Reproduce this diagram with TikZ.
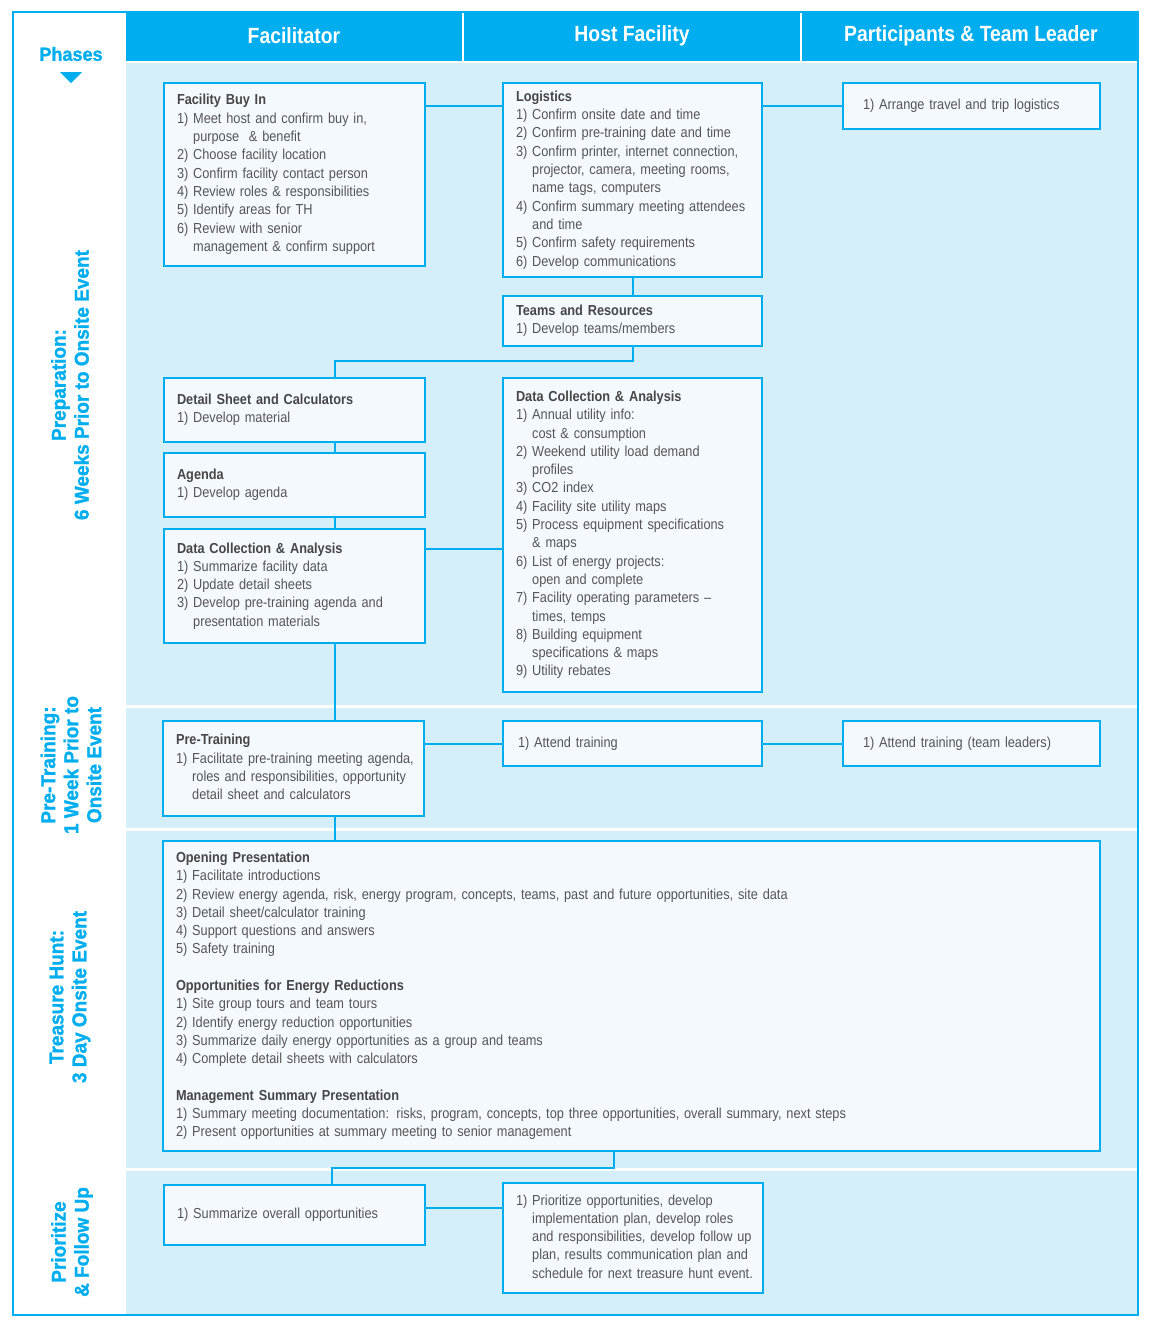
\documentclass[tikz,border=0pt]{standalone}
\usepackage{fontspec}
\setmainfont{Liberation Sans}[FakeStretch=0.88]
\newfontfamily\phasefont{Liberation Sans}[FakeStretch=0.95,BoldFeatures={FakeBold=1.2}]
\definecolor{thcyan}{HTML}{00AEEF}
\definecolor{thpale}{HTML}{D4EEFA}
\definecolor{thcard}{HTML}{F4F9FD}
\definecolor{thtext}{HTML}{555557}
\definecolor{thtitle}{HTML}{464648}
\newcommand{\ind}{\hphantom{0)\ }}
\newcommand{\ttl}[1]{{\color{thtitle}\bfseries #1}}
\newcommand{\cell}[1]{\noindent\begin{tabular}{@{}l@{}}#1\end{tabular}}

\begin{document}
\begin{tikzpicture}[x=1pt,y=-1pt,
  task box/.style={draw=thcyan,line width=2pt,fill=thcard,text=thtext,anchor=north west,
    inner xsep=13pt,inner ysep=0pt,font=\fontsize{14.5}{18.3}\selectfont},
  box size/.style 2 args={minimum width=#1pt,minimum height=#2pt,
    /utils/exec={\pgfmathsetlengthmacro\boxtw{#1pt-26pt}},text width=\boxtw},
  link/.style={draw=thcyan,line width=2pt},
  head label/.style={text=white,font=\bfseries\fontsize{22}{26}\selectfont},
  phase label/.style={rotate=90,align=center,text=thcyan,
    font=\phasefont\bfseries\fontsize{20}{23}\selectfont}]

  \useasboundingbox (0,0) rectangle (1151,1325);
  \fill[white] (0,0) rectangle (1151,1325);
  \fill[thpale] (126,63) rectangle (1138,1315);
  \fill[thcyan] (126,11) rectangle (1139,61);
  \draw[white,line width=2pt] (463,11) -- (463,61) (801,11) -- (801,61);
  \draw[white,line width=3pt] (126,706) -- (1138,706) (126,829) -- (1138,829)
    (126,1169) -- (1138,1169);
  \draw[thcyan,line width=2pt] (13,12) rectangle (1138,1315);

  % column heads
  \node[head label] (fac) at (294,36) {Facilitator};
  \node[head label] (host) at (632,36) {Host Facility};
  \node[head label] (part) at (971,36) {Participants \& Team Leader};
  \node[text=thcyan,font=\phasefont\bfseries\fontsize{19}{24}\selectfont] (phases) at (71,54) {Phases};
  \fill[thcyan] (60,72) -- (82,72) -- (71,83) -- cycle;

  % phases
  \node[phase label] (prep) at (70,385) {Preparation:\\6 Weeks Prior to Onsite Event};
  \node[phase label] (pretr) at (71,765) {Pre-Training:\\1 Week Prior to\\Onsite Event};
  \node[phase label] (onsite) at (70,997) {Treasure Hunt:\\3 Day Onsite Event};
  \node[phase label] (follow) at (72,1242) {Prioritize\\\& Follow Up};

  % preparation
  \node[task box,box size={261}{183}] (buyin) at (163,82) {\cell{\ttl{Facility Buy In}\\
    1) Meet host and confirm buy in,\\
    \ind purpose \ \& benefit\\
    2) Choose facility location\\
    3) Confirm facility contact person\\
    4) Review roles \& responsibilities\\
    5) Identify areas for TH\\
    6) Review with senior\\
    \ind management \& confirm support}};
  \node[task box,box size={259}{194}] (logistics) at (502,82) {\cell{\ttl{Logistics}\\
    1) Confirm onsite date and time\\
    2) Confirm pre-training date and time\\
    3) Confirm printer, internet connection,\\
    \ind projector, camera, meeting rooms,\\
    \ind name tags, computers\\
    4) Confirm summary meeting attendees\\
    \ind and time\\
    5) Confirm safety requirements\\
    6) Develop communications}};
  \node[task box,box size={257}{46},inner xsep=20pt,text width=217pt] (arrange) at (842,82)
    {\cell{1) Arrange travel and trip logistics}};
  \node[task box,box size={259}{50}] (teams) at (502,295) {\cell{\ttl{Teams and Resources}\\
    1) Develop teams/members}};
  \node[task box,box size={261}{64}] (detail) at (163,377) {\cell{\ttl{Detail Sheet and Calculators}\\
    1) Develop material}};
  \node[task box,box size={261}{64}] (agenda) at (163,452) {\cell{\ttl{Agenda}\\
    1) Develop agenda}};
  \node[task box,box size={261}{114}] (dcl) at (163,528) {\cell{\ttl{Data Collection \& Analysis}\\
    1) Summarize facility data\\
    2) Update detail sheets\\
    3) Develop pre-training agenda and\\
    \ind presentation materials}};
  \node[task box,box size={259}{314}] (dcr) at (502,377) {\cell{\ttl{Data Collection \& Analysis}\\
    1) Annual utility info:\\
    \ind cost \& consumption\\
    2) Weekend utility load demand\\
    \ind profiles\\
    3) CO2 index\\
    4) Facility site utility maps\\
    5) Process equipment specifications\\
    \ind \& maps\\
    6) List of energy projects:\\
    \ind open and complete\\
    7) Facility operating parameters --\\
    \ind times, temps\\
    8) Building equipment\\
    \ind specifications \& maps\\
    9) Utility rebates}};

  % pre-training
  \node[task box,box size={261}{95}] (pretrain) at (162,720) {\cell{\ttl{Pre-Training}\\
    1) Facilitate pre-training meeting agenda,\\
    \ind roles and responsibilities, opportunity\\
    \ind detail sheet and calculators}};
  \node[task box,box size={259}{45},inner xsep=15pt,text width=229pt] (attend) at (502,720)
    {\cell{1) Attend training}};
  \node[task box,box size={257}{45},inner xsep=20pt,text width=217pt] (leaders) at (842,720)
    {\cell{1) Attend training (team leaders)}};

  % treasure hunt
  \node[task box,box size={937}{310}] (hunt) at (162,840) {\cell{\ttl{Opening Presentation}\\
    1) Facilitate introductions\\
    2) Review energy agenda, risk, energy program, concepts, teams, past and future opportunities, site data\\
    3) Detail sheet/calculator training\\
    4) Support questions and answers\\
    5) Safety training\\[18.3pt]
    \ttl{Opportunities for Energy Reductions}\\
    1) Site group tours and team tours\\
    2) Identify energy reduction opportunities\\
    3) Summarize daily energy opportunities as a group and teams\\
    4) Complete detail sheets with calculators\\[18.3pt]
    \ttl{Management Summary Presentation}\\
    1) Summary meeting documentation: risks, program, concepts, top three opportunities, overall summary, next steps\\
    2) Present opportunities at summary meeting to senior management}};

  % follow up
  \node[task box,box size={261}{60}] (summ) at (163,1184) {\cell{1) Summarize overall opportunities}};
  \node[task box,box size={260}{110}] (prio) at (502,1182) {\cell{1) Prioritize opportunities, develop\\
    \ind implementation plan, develop roles\\
    \ind and responsibilities, develop follow up\\
    \ind plan, results communication plan and\\
    \ind schedule for next treasure hunt event.}};

  % connectors
  \coordinate (spine) at (335,361);
  \coordinate (dcjoin) at (0,549);
  \coordinate (huntdrop) at (614,1168);
  \coordinate (summjoin) at (332,1208);
  \draw[link] (buyin.east |- arrange.west) -- (logistics.west |- arrange.west);
  \draw[link] (logistics.east |- arrange.west) -- (arrange.west);
  \draw[link] (logistics.south) -- (teams.north);
  \draw[link] (teams.south) |- (spine) -- (detail.north -| spine);
  \draw[link] (detail.south -| spine) -- (agenda.north -| spine);
  \draw[link] (agenda.south -| spine) -- (dcl.north -| spine);
  \draw[link] (dcl.east |- dcjoin) -- (dcr.west |- dcjoin);
  \draw[link] (dcl.south -| spine) -- (pretrain.north -| spine);
  \draw[link] (pretrain.east |- attend.west) -- (attend.west);
  \draw[link] (attend.east) -- (leaders.west);
  \draw[link] (pretrain.south -| spine) -- (hunt.north -| spine);
  \draw[link] (hunt.south -| huntdrop) -- (huntdrop) -| (summ.north -| summjoin);
  \draw[link] (summ.east |- summjoin) -- (prio.west |- summjoin);
\end{tikzpicture}
\end{document}
